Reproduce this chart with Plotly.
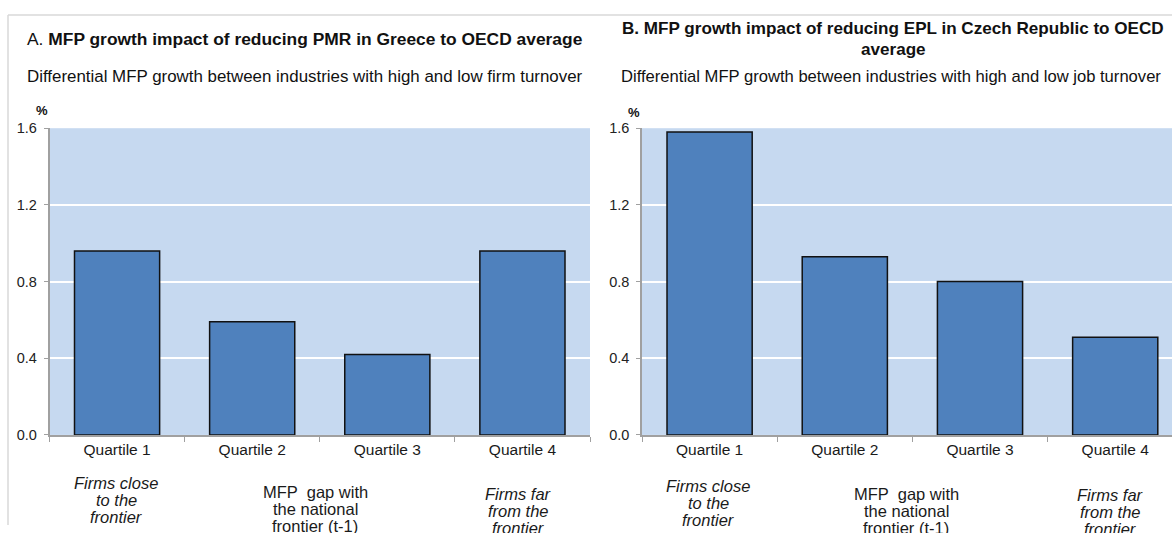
import plotly.graph_objects as go

# ---- data ----
categories = ["Quartile 1", "Quartile 2", "Quartile 3", "Quartile 4"]
greece_pmr = [0.96, 0.59, 0.42, 0.96]
czech_epl = [1.58, 0.93, 0.80, 0.51]
y_ticks = [0.0, 0.4, 0.8, 1.2, 1.6]
y_tick_labels = ["0.0", "0.4", "0.8", "1.2", "1.6"]

title_a = "A. <b>MFP growth impact of reducing PMR in Greece to OECD average</b>"
sub_a = "Differential MFP growth between industries with high and low firm turnover"
title_b_lines = ["<b>B. MFP growth impact of reducing EPL in Czech Republic to OECD</b>",
                 "<b>average</b>"]
sub_b = "Differential MFP growth between industries with high and low job turnover"
note_close = ["<i>Firms close</i>", "<i>to the</i>", "<i>frontier</i>"]
note_gap = ["MFP  gap with", "the national", "frontier (t-1)"]
note_far = ["<i>Firms far</i>", "<i>from the</i>", "<i>frontier</i>"]

W, H = 1172, 533
FONT = "Liberation Sans, Arial, sans-serif"
BAR = "#4F81BD"
BG = "#C6D9F0"
AX = "#A0A0A0"


def px(x):
    return x / W


def py(y):
    # map a target picture row to paper coordinates (compensating capture offset/scale)
    yp = (y - 7) / 0.9724
    return 1 - yp / H


fig = go.Figure()
fig.add_trace(go.Bar(x=categories, y=greece_pmr, xaxis="x", yaxis="y",
                     marker=dict(color=BAR, line=dict(color="#111111", width=1.5)),
                     showlegend=False, hoverinfo="x+y"))
fig.add_trace(go.Bar(x=categories, y=czech_epl, xaxis="x2", yaxis="y2",
                     marker=dict(color=BAR, line=dict(color="#111111", width=1.5)),
                     showlegend=False, hoverinfo="x+y"))

y_bottom, y_top = max(0, py(435)), min(1, py(127.5))

xcommon = dict(showline=True, linecolor=AX, linewidth=1.5, ticks="outside",
               tickson="boundaries", ticklen=5, tickcolor=AX, showgrid=False,
               tickfont=dict(family=FONT, size=15.5, color="#1a1a1a"), fixedrange=True)
ycommon = dict(range=[0, 1.6], tickvals=y_ticks, ticktext=y_tick_labels,
               showline=True, linecolor=AX, linewidth=1.5, ticks="outside",
               ticklen=4, tickcolor=AX, showgrid=True, gridcolor="white",
               gridwidth=1.5, zeroline=False, ticklabelstandoff=4,
               tickfont=dict(family=FONT, size=14.5, color="#222222"), fixedrange=True)

fig.update_layout(
    width=W, height=H,
    margin=dict(l=0, r=0, t=0, b=0),
    paper_bgcolor="white",
    plot_bgcolor=BG,
    bargap=0.37,
    xaxis=dict(domain=[px(49.5), px(590)], range=[-0.5, 3.5], anchor="y", **xcommon),
    yaxis=dict(domain=[y_bottom, y_top], anchor="x", **ycommon),
    xaxis2=dict(domain=[px(642), 1.0], range=[-0.5, 3.42], anchor="y2", **xcommon),
    yaxis2=dict(domain=[y_bottom, y_top], anchor="x2", **ycommon),
)

# outer frame lines
fig.add_shape(type="line", xref="paper", yref="paper", x0=px(8), x1=1, y0=py(14), y1=py(14),
              line=dict(color="#D9D9D9", width=1.5))
fig.add_shape(type="line", xref="paper", yref="paper", x0=px(8), x1=px(8), y0=py(14), y1=0,
              line=dict(color="#D9D9D9", width=1.5))

ann = []
ann.append(dict(text=title_a, x=px(25), y=py(38), xanchor="left", yanchor="middle",
                font=dict(family=FONT, size=17.4, color="#111111")))
ann.append(dict(text=sub_a, x=px(25), y=py(76), xanchor="left", yanchor="middle",
                font=dict(family=FONT, size=16.9, color="#111111")))
for t, yy in zip(title_b_lines, [28, 49]):
    ann.append(dict(text=t, x=px(893), y=py(yy), xanchor="center", yanchor="middle",
                    font=dict(family=FONT, size=17.1, color="#111111")))
ann.append(dict(text=sub_b, x=px(619), y=py(76), xanchor="left", yanchor="middle",
                font=dict(family=FONT, size=16.6, color="#111111")))
ann.append(dict(text="<b>%</b>", x=px(42), y=py(110), xanchor="center", yanchor="middle",
                font=dict(family=FONT, size=13, color="#111111")))
ann.append(dict(text="<b>%</b>", x=px(634), y=py(112), xanchor="center", yanchor="middle",
                font=dict(family=FONT, size=13, color="#111111")))

for xc, y0, lines in [(116, 483, note_close), (315, 492, note_gap), (518, 494, note_far),
                      (708, 486, note_close), (906, 494, note_gap), (1110, 495, note_far)]:
    for i, t in enumerate(lines):
        ann.append(dict(text=t, x=px(xc), y=py(y0 + 17 * i), xanchor="center", yanchor="middle",
                        font=dict(family=FONT, size=16.5, color="#1a1a1a")))

for a in ann:
    a.update(xref="paper", yref="paper", showarrow=False)
fig.update_layout(annotations=ann)

fig.write_html("out.html", config={"displayModeBar": False},
               post_script="document.body.style.margin='0';document.body.style.overflow='hidden';")
